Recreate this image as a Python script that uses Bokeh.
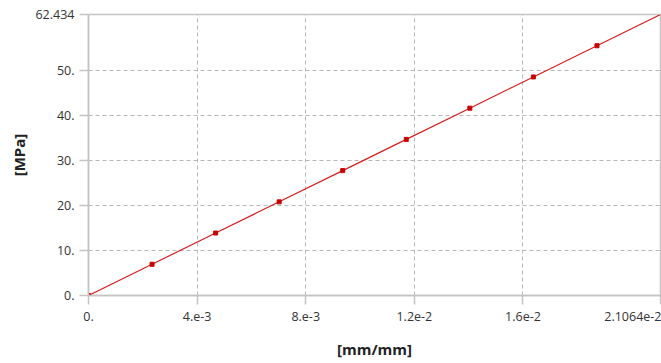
from bokeh.plotting import figure
from bokeh.models import Range1d, FixedTicker
from bokeh.embed import file_html
from bokeh.resources import INLINE

strain = [0.0, 0.0023404, 0.0046809, 0.0070213, 0.0093618, 0.011702, 0.014043, 0.016383, 0.018724, 0.021064]
stress = [0.0, 6.9371, 13.874, 20.811, 27.748, 34.686, 41.623, 48.560, 55.497, 62.434]

x_ticks = [0.0, 0.004, 0.008, 0.012, 0.016, 0.021064]
x_tick_labels = ["0.", "4.e-3", "8.e-3", "1.2e-2", "1.6e-2", "2.1064e-2"]
y_ticks = [0, 10, 20, 30, 40, 50, 62.434]
y_tick_labels = ["0.", "10.", "20.", "30.", "40.", "50.", "62.434"]

FONT = "Open Sans"
AXIS_GRAY = "#c4c4c4"
TXT = "#333333"

p = figure(width=661, height=363, output_backend="svg", toolbar_location=None,
           x_range=Range1d(0, x_ticks[-1]), y_range=Range1d(0, y_ticks[-1]),
           min_border_left=88, min_border_right=1, min_border_top=14, min_border_bottom=68)
p.background_fill_color = "white"
p.border_fill_color = "white"
p.outline_line_color = AXIS_GRAY
p.outline_line_width = 1.5

p.line(strain, stress, line_color="#d81e1e", line_width=1.2)
p.scatter(strain[:-1], stress[:-1], marker="square", size=4, fill_color="#c80000", line_color="#c80000")

p.xaxis.ticker = FixedTicker(ticks=x_ticks)
p.yaxis.ticker = FixedTicker(ticks=y_ticks)
p.xaxis.major_label_overrides = {t: l for t, l in zip(x_ticks, x_tick_labels)}
p.yaxis.major_label_overrides = {t: l for t, l in zip(y_ticks, y_tick_labels)}

for ax in (p.xaxis, p.yaxis):
    ax.axis_line_color = AXIS_GRAY
    ax.axis_line_width = 1.5
    ax.major_tick_line_color = AXIS_GRAY
    ax.major_tick_line_width = 1.5
    ax.major_tick_in = 0
    ax.major_tick_out = 9
    ax.minor_tick_line_color = None
    ax.major_label_text_font = FONT
    ax.major_label_text_font_size = "12.5px"
    ax.major_label_text_color = TXT
    ax.axis_label_text_font = FONT
    ax.axis_label_text_font_size = "15px"
    ax.axis_label_text_font_style = "bold"
    ax.axis_label_text_color = "#222222"

p.xaxis.axis_label = "[mm/mm]"
p.yaxis.axis_label = "[MPa]"
p.xaxis.major_label_standoff = 7
p.yaxis.major_label_standoff = 5
p.xaxis.axis_label_standoff = 15
p.yaxis.axis_label_standoff = 3

p.grid.grid_line_color = "#b8b8b8"
p.grid.grid_line_dash = "4 3"
p.grid.grid_line_width = 1

open("out.html", "w").write(file_html(p, INLINE))
